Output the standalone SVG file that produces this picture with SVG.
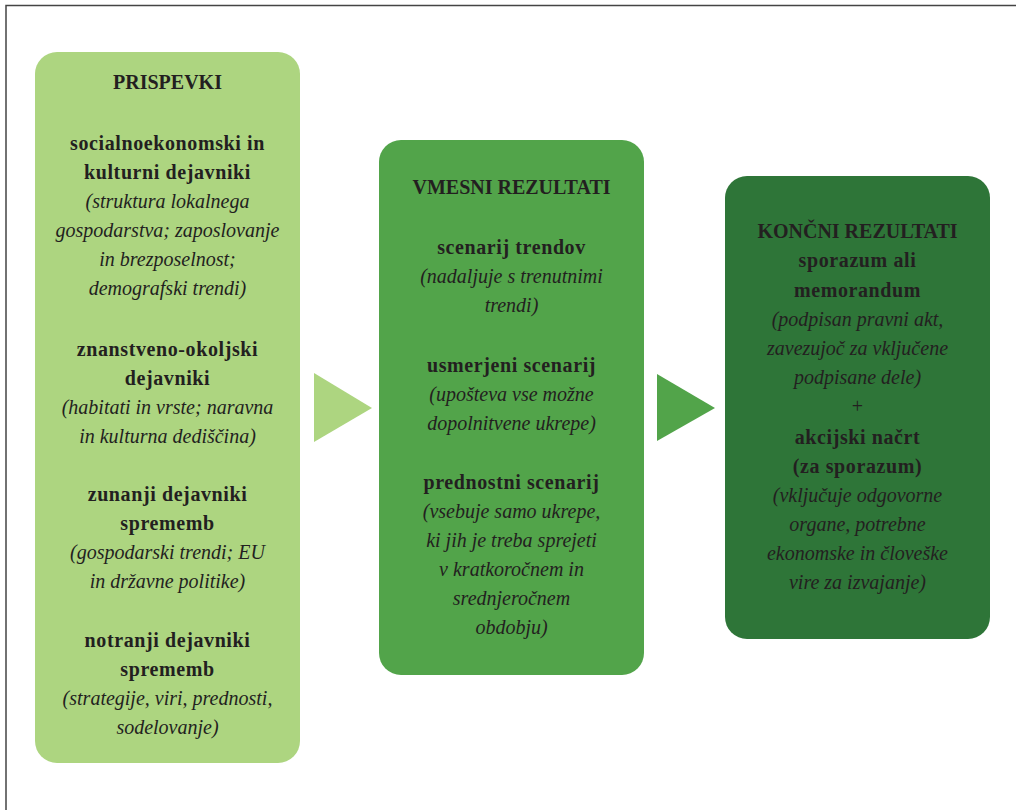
<svg xmlns="http://www.w3.org/2000/svg" width="1016" height="810" viewBox="0 0 1016 810">
<style>
text{font-family:"Liberation Serif","Times New Roman",serif;font-size:20px;fill:#231f20;text-anchor:middle}
.b{font-weight:bold;letter-spacing:0.6px}
.h{font-weight:bold;font-size:20px}
.i{font-style:italic}
</style>
<rect width="1016" height="810" fill="#fff"/>
<path d="M6 810 V5.5 H1016" fill="none" stroke="#444" stroke-width="1.5"/>
<g id="connectors">
<polygon points="314,373 372,408 314,442" fill="#add580"/>
<polygon points="657,374 715,408 657,441" fill="#52a44a"/>
</g>
<g id="prispevki">
<rect x="35" y="52" width="265" height="711" rx="22" fill="#add580"/>
<text class="h"><tspan x="167.5" y="89">PRISPEVKI</tspan></text>
<text class="b"><tspan x="167.5" y="150">socialnoekonomski in</tspan><tspan x="167.5" y="179">kulturni dejavniki</tspan></text>
<text class="i"><tspan x="167.5" y="208">(struktura lokalnega</tspan><tspan x="167.5" y="237">gospodarstva; zaposlovanje</tspan><tspan x="167.5" y="266">in brezposelnost;</tspan><tspan x="167.5" y="295">demografski trendi)</tspan></text>
<text class="b"><tspan x="167.5" y="356">znanstveno-okoljski</tspan><tspan x="167.5" y="385">dejavniki</tspan></text>
<text class="i"><tspan x="167.5" y="414">(habitati in vrste; naravna</tspan><tspan x="167.5" y="443">in kulturna dediščina)</tspan></text>
<text class="b"><tspan x="167.5" y="501">zunanji dejavniki</tspan><tspan x="167.5" y="530">sprememb</tspan></text>
<text class="i"><tspan x="167.5" y="559">(gospodarski trendi; EU</tspan><tspan x="167.5" y="588">in državne politike)</tspan></text>
<text class="b"><tspan x="167.5" y="647">notranji dejavniki</tspan><tspan x="167.5" y="676">sprememb</tspan></text>
<text class="i"><tspan x="167.5" y="705">(strategije, viri, prednosti,</tspan><tspan x="167.5" y="734">sodelovanje)</tspan></text>
</g>
<g id="vmesni">
<rect x="379" y="140" width="265" height="535" rx="22" fill="#52a44a"/>
<text class="h"><tspan x="511.5" y="194">VMESNI REZULTATI</tspan></text>
<text class="b"><tspan x="511.5" y="254">scenarij trendov</tspan></text>
<text class="i"><tspan x="511.5" y="283">(nadaljuje s trenutnimi</tspan><tspan x="511.5" y="312">trendi)</tspan></text>
<text class="b"><tspan x="511.5" y="372">usmerjeni scenarij</tspan></text>
<text class="i"><tspan x="511.5" y="401">(upošteva vse možne</tspan><tspan x="511.5" y="430">dopolnitvene ukrepe)</tspan></text>
<text class="b"><tspan x="511.5" y="489">prednostni scenarij</tspan></text>
<text class="i"><tspan x="511.5" y="518">(vsebuje samo ukrepe,</tspan><tspan x="511.5" y="547">ki jih je treba sprejeti</tspan><tspan x="511.5" y="576">v kratkoročnem in</tspan><tspan x="511.5" y="605">srednjeročnem</tspan><tspan x="511.5" y="634">obdobju)</tspan></text>
</g>
<g id="koncni">
<rect x="725" y="176" width="265" height="463" rx="22" fill="#2e7538"/>
<text class="h"><tspan x="857.5" y="238">KONČNI REZULTATI</tspan></text>
<text class="b"><tspan x="857.5" y="267">sporazum ali</tspan><tspan x="857.5" y="297">memorandum</tspan></text>
<text class="i"><tspan x="857.5" y="326">(podpisan pravni akt,</tspan><tspan x="857.5" y="355">zavezujoč za vključene</tspan><tspan x="857.5" y="384">podpisane dele)</tspan></text>
<text><tspan x="857.5" y="413">+</tspan></text>
<text class="b"><tspan x="857.5" y="444">akcijski načrt</tspan><tspan x="857.5" y="473">(za sporazum)</tspan></text>
<text class="i"><tspan x="857.5" y="502">(vključuje odgovorne</tspan><tspan x="857.5" y="531">organe, potrebne</tspan><tspan x="857.5" y="560">ekonomske in človeške</tspan><tspan x="857.5" y="589">vire za izvajanje)</tspan></text>
</g>
</svg>
